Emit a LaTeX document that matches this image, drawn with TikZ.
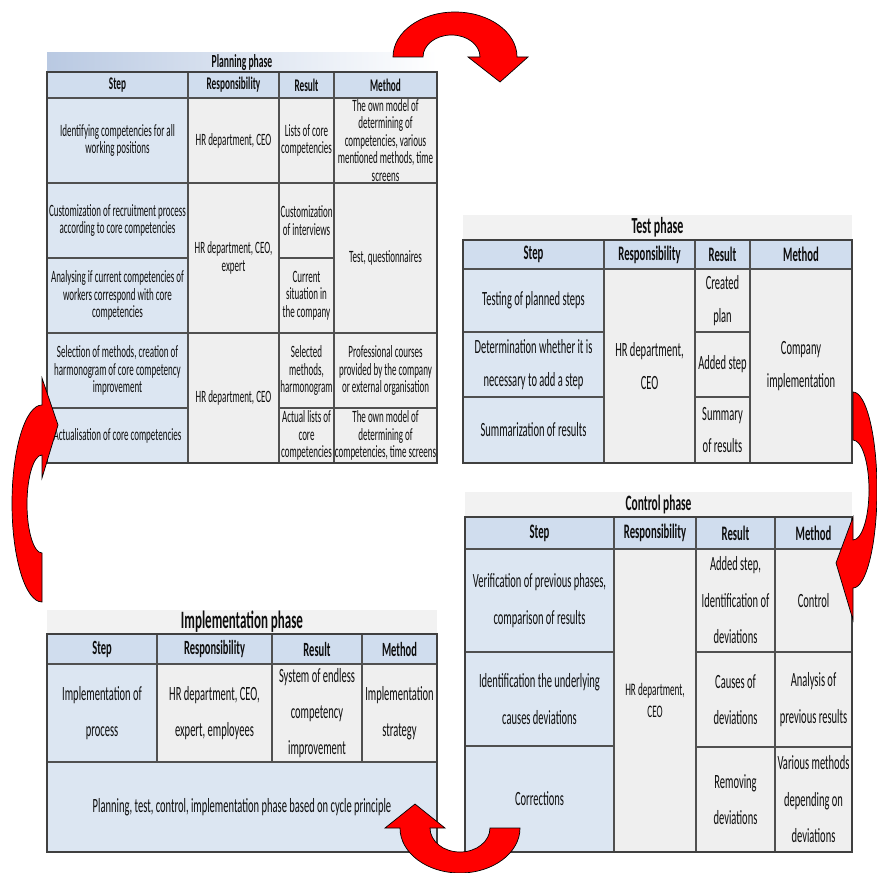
\documentclass[tikz,border=0pt]{standalone}
\usepackage{fontspec}
\setmainfont{Carlito}[FakeStretch=0.52]
\definecolor{stepblue}{HTML}{DCE6F2}
\definecolor{headblue}{HTML}{D0DDEE}
\definecolor{cellgray}{HTML}{EFEFEF}
\definecolor{gridline}{HTML}{505050}
\definecolor{bandgray}{HTML}{F2F2F2}
\definecolor{bandblue}{HTML}{B9C9E2}
\definecolor{txt}{HTML}{0D0D0D}
\newcommand\tcell[7]{%
  \pgfmathsetmacro\cw{#4-#2}\pgfmathsetmacro\ch{#5-#3}%
  \pgfmathsetmacro\cx{(#2+#4)/2}\pgfmathsetmacro\cy{(#3+#5)/2}%
  \node[#6, minimum width=\cw pt, minimum height=\ch pt] (#1) at (\cx,\cy) {#7};}
\tikzset{
  cellbase/.style={draw=gridline, line width=1.1pt, inner sep=0pt, outer sep=0pt, align=center, text=txt},
  stepcell/.style={cellbase, fill=stepblue},
  graycell/.style={cellbase, fill=cellgray},
  headcell/.style={cellbase, fill=headblue},
  band/.style={inner sep=0pt, outer sep=0pt, align=center, text=txt},
  pfont/.style={font=\fontsize{17.3}{17.5}\selectfont},
  phead/.style={font=\fontsize{17.8}{18}\selectfont\bfseries},
  tfont/.style={font=\fontsize{20.2}{32.5}\selectfont},
  thead/.style={font=\fontsize{20.6}{22}\selectfont\bfseries},
  cfont/.style={font=\fontsize{20.2}{36.5}\selectfont},
  crfont/.style={font=\fontsize{17.6}{22}\selectfont},
  chead/.style={font=\fontsize{20.6}{22}\selectfont\bfseries},
  ifont/.style={font=\fontsize{20.2}{36}\selectfont},
  ihead/.style={font=\fontsize{20.2}{22}\selectfont\bfseries},
  outerframe/.style={draw=gridline!80!black, line width=1.6pt},
  redarrow/.style={fill=red, draw=black, line width=0.7pt, line join=miter}
}
\begin{document}
\begin{tikzpicture}[x=1pt,y=-1pt]
\useasboundingbox (0,0) rectangle (877,872);
\fill[white] (0,0) rectangle (877,872);

% ---------------- Planning phase ----------------
\tcell{ptitle}{47}{53}{437}{72}{band,left color=bandblue,right color=white,font=\fontsize{18.5}{19}\selectfont\bfseries}{Planning phase}
\tcell{ph1}{47}{72}{188}{98}{headcell,phead}{Step}
\tcell{ph2}{188}{72}{279}{98}{headcell,phead}{Responsibility}
\tcell{ph3}{279}{72}{334}{98}{headcell,phead}{Result}
\tcell{ph4}{334}{72}{437}{98}{headcell,phead}{Method}
\tcell{ps1}{47}{98}{188}{183}{stepcell,pfont}{Identifying competencies for all\\working positions}
\tcell{ps2}{47}{183}{188}{258}{stepcell,pfont}{Customization of recruitment process\\according to core competencies}
\tcell{ps3}{47}{258}{188}{333}{stepcell,pfont}{Analysing if current competencies of\\workers correspond with core\\competencies}
\tcell{ps4}{47}{333}{188}{408}{stepcell,pfont}{Selection of methods, creation of\\harmonogram of core competency\\improvement}
\tcell{ps5}{47}{408}{188}{463}{stepcell,pfont}{Actualisation of core competencies}
\tcell{pr1}{188}{98}{279}{183}{graycell,pfont}{HR department, CEO}
\tcell{pr2}{188}{183}{279}{333}{graycell,pfont}{HR department, CEO,\\expert}
\tcell{pr3}{188}{333}{279}{463}{graycell,pfont}{HR department, CEO}
\tcell{pq1}{279}{98}{334}{183}{graycell,pfont}{Lists of core\\competencies}
\tcell{pq2}{279}{183}{334}{258}{graycell,pfont}{Customization\\of interviews}
\tcell{pq3}{279}{258}{334}{333}{graycell,pfont}{Current\\situation in\\the company}
\tcell{pq4}{279}{333}{334}{408}{graycell,pfont}{Selected\\methods,\\harmonogram}
\tcell{pq5}{279}{408}{334}{463}{graycell,pfont}{Actual lists of\\core\\competencies}
\tcell{pm1}{334}{98}{437}{183}{graycell,pfont}{The own model of\\determining of\\competencies, various\\mentioned methods, time\\screens}
\tcell{pm2}{334}{183}{437}{333}{graycell,pfont}{Test, questionnaires}
\tcell{pm3}{334}{333}{437}{408}{graycell,pfont}{Professional courses\\provided by the company\\or external organisation}
\tcell{pm4}{334}{408}{437}{463}{graycell,pfont}{The own model of\\determining of\\competencies, time screens}
\draw[outerframe] (ph1.north west) rectangle (pm4.south east);

% ---------------- Test phase ----------------
\tcell{ttitle}{463}{215}{852}{240}{band,fill=bandgray,font=\fontsize{23}{24}\selectfont\bfseries}{Test phase}
\tcell{th1}{463}{240}{604}{269}{headcell,thead}{Step}
\tcell{th2}{604}{240}{695}{269}{headcell,thead}{Responsibility}
\tcell{th3}{695}{240}{750}{269}{headcell,thead}{Result}
\tcell{th4}{750}{240}{852}{269}{headcell,thead}{Method}
\tcell{ts1}{463}{269}{604}{332}{stepcell,tfont}{Testing of planned steps}
\tcell{ts2}{463}{332}{604}{397}{stepcell,tfont}{Determination whether it is\\necessary to add a step}
\tcell{ts3}{463}{397}{604}{463}{stepcell,tfont}{Summarization of results}
\tcell{tr1}{604}{269}{695}{463}{graycell,tfont}{HR department,\\CEO}
\tcell{tq1}{695}{269}{750}{332}{graycell,tfont}{Created\\plan}
\tcell{tq2}{695}{332}{750}{397}{graycell,tfont}{Added step}
\tcell{tq3}{695}{397}{750}{463}{graycell,tfont}{Summary\\of results}
\tcell{tm1}{750}{269}{852}{463}{graycell,tfont}{Company\\implementation}
\draw[outerframe] (th1.north west) rectangle (tm1.south east);

% ---------------- Control phase ----------------
\tcell{ctitle}{465}{492}{852}{517}{band,fill=bandgray,font=\fontsize{22}{23}\selectfont\bfseries}{Control phase}
\tcell{ch1}{465}{517}{614}{549}{headcell,chead}{Step}
\tcell{ch2}{614}{517}{696}{549}{headcell,chead}{Responsibility}
\tcell{ch3}{696}{517}{775}{549}{headcell,chead}{Result}
\tcell{ch4}{775}{517}{852}{549}{headcell,chead}{Method}
\tcell{cs1}{465}{549}{614}{652}{stepcell,cfont}{Verification of previous phases,\\comparison of results}
\tcell{cs2}{465}{652}{614}{746}{stepcell,cfont}{Identification the underlying\\causes deviations}
\tcell{cs3}{465}{746}{614}{852}{stepcell,cfont}{Corrections}
\tcell{cr1}{614}{549}{696}{852}{graycell,crfont}{HR department,\\CEO}
\tcell{cq1}{696}{549}{775}{652}{graycell,cfont}{Added step,\\Identification of\\deviations}
\tcell{cq2}{696}{652}{775}{747}{graycell,cfont}{Causes of\\deviations}
\tcell{cq3}{696}{747}{775}{852}{graycell,cfont}{Removing\\deviations}
\tcell{cm1}{775}{549}{852}{652}{graycell,cfont}{Control}
\tcell{cm2}{775}{652}{852}{747}{graycell,cfont}{Analysis of\\previous results}
\tcell{cm3}{775}{747}{852}{852}{graycell,cfont}{Various methods\\depending on\\deviations}
\draw[outerframe] (ch1.north west) rectangle (cm3.south east);

% ---------------- Implementation phase ----------------
\tcell{ititle}{47}{610}{437}{634}{band,fill=bandgray,font=\fontsize{25}{26}\selectfont\bfseries}{Implementation phase}
\tcell{ih1}{47}{634}{157}{664}{headcell,ihead}{Step}
\tcell{ih2}{157}{634}{272}{664}{headcell,ihead}{Responsibility}
\tcell{ih3}{272}{634}{362}{664}{headcell,ihead}{Result}
\tcell{ih4}{362}{634}{437}{664}{headcell,ihead}{Method}
\tcell{is1}{47}{664}{157}{762}{stepcell,ifont}{Implementation of\\process}
\tcell{ir1}{157}{664}{272}{762}{graycell,ifont}{HR department, CEO,\\expert, employees}
\tcell{iq1}{272}{664}{362}{762}{graycell,ifont}{System of endless\\competency\\improvement}
\tcell{im1}{362}{664}{437}{762}{graycell,ifont}{Implementation\\strategy}
\tcell{ib1}{47}{762}{437}{852}{stepcell,ifont}{Planning, test, control, implementation phase based on cycle principle}
\draw[outerframe] (ih1.north west) rectangle (ib1.south east);

% ---------------- Curved arrows ----------------
\draw[redarrow] (393,57) arc[start angle=180, end angle=360, x radius=62, y radius=45]
  -- (528,57) -- (500,82) -- (468,57) -- (480,57)
  arc[start angle=0, end angle=-180, x radius=28.5, y radius=22] -- cycle;
\draw[redarrow] (853,392) arc[start angle=-90, end angle=90, x radius=24, y radius=98]
  -- (853,620) -- (836,563) -- (853,517) -- (853,540)
  arc[start angle=90, end angle=-90, x radius=16, y radius=50] -- cycle;
\draw[redarrow] (520,828) arc[start angle=0, end angle=180, x radius=60, y radius=45]
  -- (385,828) -- (415,804) -- (445,828) -- (430,828)
  arc[start angle=180, end angle=0, x radius=30, y radius=24] -- cycle;
\draw[redarrow] (42,602) arc[start angle=90, end angle=270, x radius=30, y radius=98.5]
  -- (42,378) -- (58,425) -- (42,478) -- (42,455)
  arc[start angle=270, end angle=90, x radius=15, y radius=49] -- cycle;
\end{tikzpicture}
\end{document}
